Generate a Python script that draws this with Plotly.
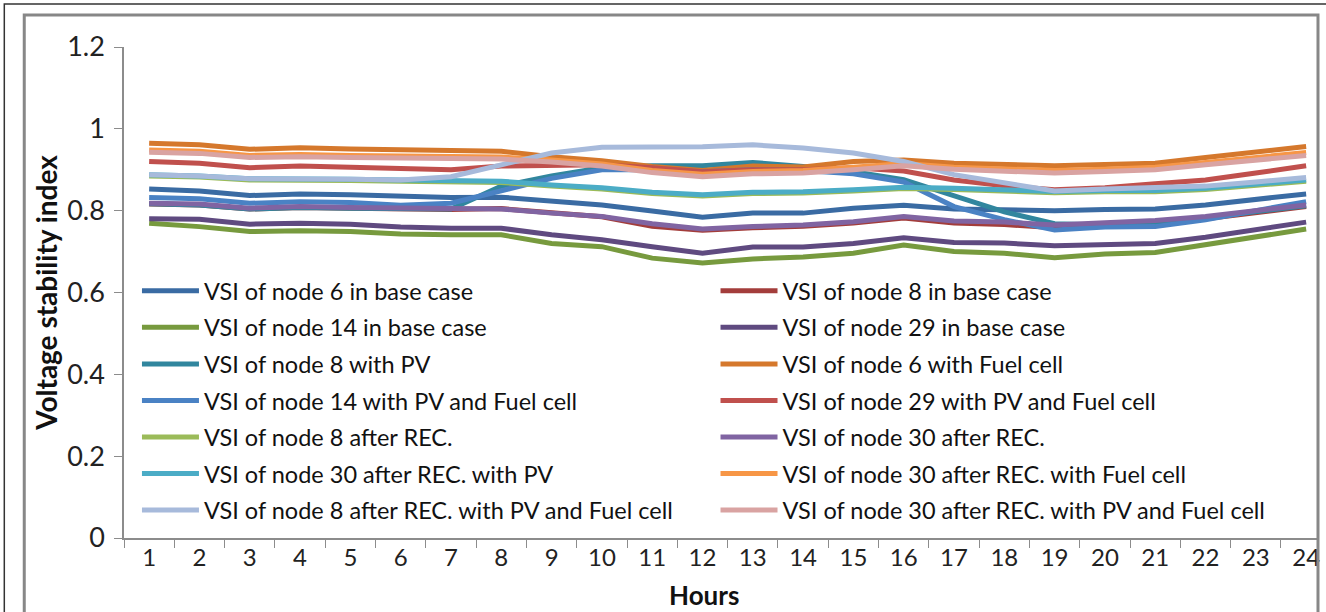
import plotly.graph_objects as go

hours = [str(h) for h in range(1, 25)]

vsi_node6_base = [0.853,0.848,0.837,0.841,0.839,0.836,0.832,0.833,0.823,0.814,0.799,0.784,0.794,0.794,0.806,0.813,0.804,0.803,0.800,0.803,0.804,0.814,0.828,0.841]
vsi_node8_base = [0.816,0.814,0.804,0.808,0.806,0.803,0.803,0.805,0.795,0.785,0.762,0.752,0.758,0.762,0.770,0.782,0.770,0.766,0.758,0.764,0.768,0.780,0.795,0.810]
vsi_node14_base = [0.769,0.761,0.749,0.751,0.749,0.743,0.741,0.741,0.720,0.712,0.684,0.672,0.682,0.687,0.696,0.716,0.700,0.696,0.685,0.694,0.698,0.716,0.735,0.755]
vsi_node29_base = [0.780,0.779,0.767,0.769,0.767,0.760,0.757,0.757,0.741,0.729,0.712,0.696,0.711,0.711,0.720,0.734,0.722,0.721,0.714,0.718,0.720,0.735,0.754,0.772]
vsi_node8_pv = [0.817,0.814,0.804,0.808,0.806,0.804,0.804,0.860,0.885,0.905,0.910,0.910,0.918,0.908,0.895,0.876,0.835,0.797,0.768,0.765,0.768,0.782,0.798,0.812]
vsi_node6_fc = [0.965,0.961,0.950,0.954,0.951,0.949,0.945,0.945,0.932,0.922,0.908,0.898,0.909,0.907,0.920,0.924,0.916,0.914,0.910,0.913,0.916,0.930,0.944,0.957]
vsi_node14_pvfc = [0.832,0.829,0.818,0.822,0.820,0.813,0.818,0.847,0.879,0.900,0.900,0.895,0.900,0.898,0.890,0.870,0.810,0.778,0.753,0.760,0.761,0.778,0.800,0.822]
vsi_node29_pvfc = [0.920,0.916,0.905,0.909,0.906,0.904,0.900,0.909,0.912,0.912,0.905,0.895,0.900,0.900,0.905,0.897,0.875,0.861,0.851,0.856,0.866,0.875,0.892,0.910]
vsi_node8_rec = [0.885,0.882,0.875,0.876,0.874,0.872,0.870,0.869,0.860,0.853,0.842,0.836,0.842,0.843,0.848,0.854,0.852,0.848,0.844,0.846,0.846,0.852,0.862,0.872]
vsi_node30_rec = [0.818,0.816,0.806,0.810,0.808,0.806,0.805,0.804,0.794,0.786,0.768,0.755,0.761,0.765,0.773,0.786,0.775,0.772,0.765,0.770,0.776,0.786,0.800,0.814]
vsi_node30_rec_pv = [0.888,0.885,0.878,0.879,0.877,0.875,0.873,0.872,0.863,0.856,0.845,0.839,0.845,0.846,0.851,0.857,0.855,0.851,0.847,0.849,0.849,0.855,0.865,0.875]
vsi_node30_rec_fc = [0.948,0.945,0.935,0.937,0.935,0.934,0.932,0.931,0.924,0.914,0.898,0.889,0.896,0.898,0.906,0.915,0.906,0.902,0.898,0.901,0.906,0.918,0.930,0.942]
vsi_node8_rec_pvfc = [0.888,0.885,0.878,0.879,0.877,0.875,0.883,0.912,0.941,0.955,0.954,0.956,0.961,0.953,0.941,0.920,0.888,0.867,0.848,0.853,0.855,0.860,0.870,0.881]
vsi_node30_rec_pvfc = [0.943,0.940,0.930,0.932,0.930,0.929,0.927,0.926,0.919,0.909,0.893,0.883,0.890,0.892,0.900,0.910,0.901,0.897,0.892,0.896,0.900,0.912,0.924,0.935]

series_names = [
    "VSI of node 6 in base case",
    "VSI of node 8 in base case",
    "VSI of node 14 in base case",
    "VSI of node 29 in base case",
    "VSI of node 8 with PV",
    "VSI of node 6 with Fuel cell",
    "VSI of node 14 with PV and Fuel cell",
    "VSI of node 29 with PV and Fuel cell",
    "VSI of node 8 after REC.",
    "VSI of node 30 after REC.",
    "VSI of node 30 after REC. with PV",
    "VSI of node 30 after REC. with Fuel cell",
    "VSI of node 8 after REC. with PV and Fuel cell",
    "VSI of node 30 after REC. with PV and Fuel cell",
]
series_values = [
    vsi_node6_base, vsi_node8_base, vsi_node14_base, vsi_node29_base,
    vsi_node8_pv, vsi_node6_fc, vsi_node14_pvfc, vsi_node29_pvfc,
    vsi_node8_rec, vsi_node30_rec, vsi_node30_rec_pv, vsi_node30_rec_fc,
    vsi_node8_rec_pvfc, vsi_node30_rec_pvfc,
]
series_colors = [
    "#3A6BA3", "#A33D3B", "#779A3E", "#5F4A80",
    "#31869E", "#D5782C", "#4A82C4", "#C0504D",
    "#9BBB59", "#8064A2", "#4BACC6", "#F79646",
    "#A7BADB", "#D9A3A2",
]

FONT = "Lato"
W, H = 1326, 612
L, R_AX, T, B = 124, 1320, 47, 538
PW, PH = R_AX - L, B - T
CAT_W = 50.43  # pixel width of one hour category

def px(x):
    return (x - L) / PW

def py(y):
    return (B - y) / PH

fig = go.Figure()
for i, (name, vals, col) in enumerate(zip(series_names, series_values, series_colors)):
    fig.add_trace(go.Scatter(
        x=hours, y=vals, name=name, mode="lines",
        line=dict(color=col, width=5),
        legend="legend" if i % 2 == 0 else "legend2",
        legendgroup="g%d" % i,
    ))

legend_common = dict(
    bgcolor="rgba(0,0,0,0)", borderwidth=0,
    font=dict(family=FONT, size=23.5, color="#111"),
    tracegroupgap=3, itemwidth=57,
    xanchor="left", yanchor="top", orientation="v",
)

fig.update_layout(
    width=W, height=H,
    margin=dict(l=L, r=W - R_AX, t=T, b=H - B),
    paper_bgcolor="white", plot_bgcolor="white",
    showlegend=True,
    legend=dict(x=px(137), y=py(269), **legend_common),
    legend2=dict(x=px(717), y=py(269), **legend_common),
    xaxis=dict(
        type="category", tickson="boundaries",
        range=[-0.5, -0.5 + PW / CAT_W],
        showline=True, linecolor="#8C8C8C", linewidth=1.5,
        ticks="outside", ticklen=8, tickcolor="#8C8C8C", tickwidth=1.2,
        ticklabelstandoff=-3,
        showgrid=False, zeroline=False,
        tickfont=dict(family=FONT, size=24, color="#222"),
    ),
    yaxis=dict(
        range=[0, 1.2], tickvals=[0, 0.2, 0.4, 0.6, 0.8, 1, 1.2],
        ticktext=["0", "0.2", "0.4", "0.6", "0.8", "1", "1.2"],
        showline=True, linecolor="#8C8C8C", linewidth=1.5,
        ticks="outside", ticklen=8, tickcolor="#8C8C8C", tickwidth=1.2,
        ticklabelstandoff=4,
        showgrid=False, zeroline=False,
        tickfont=dict(family=FONT, size=27, color="#222"),
        title=dict(text="<b>Voltage stability index</b>", font=dict(family=FONT, size=28, color="#111"), standoff=1),
    ),
    annotations=[
        dict(text="<b>Hours</b>", xref="paper", yref="paper",
             x=px(705), y=py(595), xanchor="center", yanchor="middle",
             showarrow=False, font=dict(family=FONT, size=26, color="#111")),
    ],
    shapes=[
        dict(type="rect", xref="paper", yref="paper",
             x0=px(4), x1=px(1345), y0=py(650), y1=py(4),
             line=dict(color="#333", width=1.5), fillcolor="rgba(0,0,0,0)", layer="above"),
        dict(type="rect", xref="paper", yref="paper",
             x0=px(24), x1=px(1321), y0=py(650), y1=py(15),
             line=dict(color="#878787", width=3), fillcolor="rgba(0,0,0,0)", layer="above"),
    ],
)

fig.write_html("out.html")
